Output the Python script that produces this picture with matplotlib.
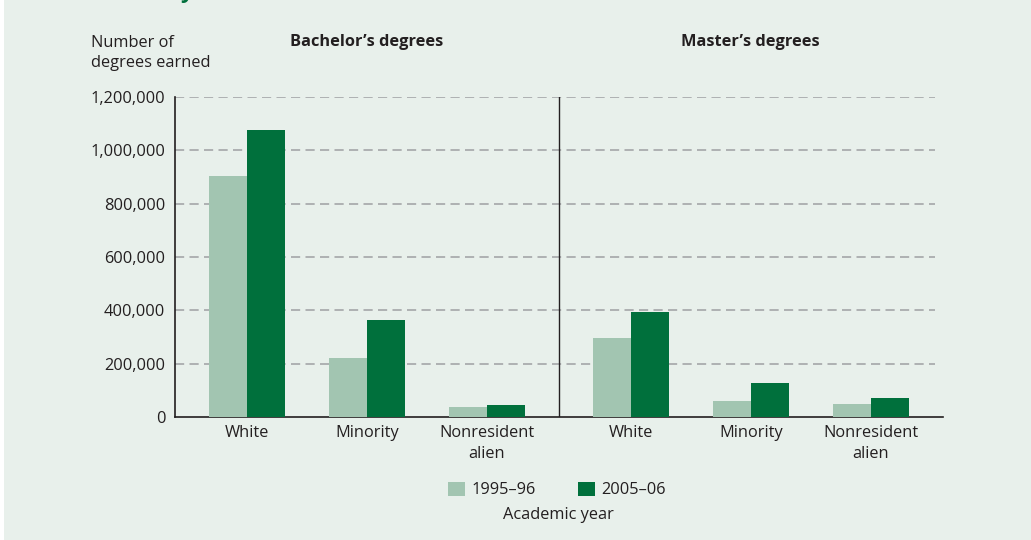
import matplotlib
matplotlib.use("Agg")
import matplotlib.pyplot as plt
from matplotlib.patches import Rectangle, Patch
from matplotlib.ticker import FuncFormatter

plt.rcParams['font.family'] = ['Open Sans', 'DejaVu Sans']

# ---- data ----
panels = ["Bachelor\u2019s degrees", "Master\u2019s degrees"]
categories = ["White", "Minority", "Nonresident\nalien"]
years = ["1995\u201396", "2005\u201306"]
bachelor_1995 = [905000, 222000, 37500]
bachelor_2005 = [1076000, 364000, 45000]
master_1995 = [296000, 60000, 49000]
master_2005 = [394000, 127500, 71000]
yticks = [0, 200000, 400000, 600000, 800000, 1000000, 1200000]

light = "#a2c5b1"
dark = "#00703c"
txt = "#231f20"
grid = "#a4a6a8"
bg = "#e8f0eb"

W, H = 1031, 540
fig = plt.figure(figsize=(W / 100, H / 100), dpi=100, facecolor="white")
fig.patches.append(Rectangle((4 / W, 0), 1 - 4 / W, 1, transform=fig.transFigure,
                             facecolor=bg, edgecolor="none", zorder=-10))

ax = fig.add_axes([175 / W, 123 / H, (943 - 175) / W, 320 / H])
ax.set_facecolor("none")

bw = 0.32
pos_b = [0, 1, 2]
pos_m = [3.2, 4.2, 5.2]
xs = pos_b + pos_m
v95 = bachelor_1995 + master_1995
v05 = bachelor_2005 + master_2005
ax.bar([x - bw / 2 for x in xs], v95, width=bw, color=light, zorder=3)
ax.bar([x + bw / 2 for x in xs], v05, width=bw, color=dark, zorder=3)

ax.set_xlim(-0.6, 5.8)
ax.set_ylim(0, 1200000)
ax.set_yticks(yticks)
ax.yaxis.set_major_formatter(FuncFormatter(lambda v, p: f"{int(v):,}"))
ax.hlines([t for t in yticks if t > 0], -0.6, 5.733, colors=grid, lw=1.2,
          linestyles=(0, (5.5, 3.2)), zorder=1)
ax.axvline(2.6, color=txt, lw=1.0, zorder=4)

ax.set_xticks(xs)
ax.set_xticklabels(categories * 2, linespacing=1.4)
ax.tick_params(axis="both", length=0, labelsize=11.8, colors=txt)
ax.tick_params(axis="y", pad=7)
ax.tick_params(axis="x", pad=6)
for s in ["top", "right"]:
    ax.spines[s].set_visible(False)
for s in ["left", "bottom"]:
    ax.spines[s].set_color(txt)
    ax.spines[s].set_linewidth(1.2)

# titles
fig.text(367 / W, 1 - 42 / H, panels[0], ha="center", va="center",
         fontsize=11.8, fontweight="bold", color=txt)
fig.text(750 / W, 1 - 42 / H, panels[1], ha="center", va="center",
         fontsize=11.8, fontweight="bold", color=txt)
fig.text(91 / W, 1 - 53 / H, "Number of\ndegrees earned", ha="left", va="center",
         fontsize=11.8, color=txt, linespacing=1.4)

# cut-off title descender at top (as in the reference)
fig.text(180 / W, 1 + 2 / H, "y", ha="left", va="baseline", fontsize=16,
         fontweight="bold", color=dark)

handles = [Patch(facecolor=light, edgecolor="none"), Patch(facecolor=dark, edgecolor="none")]
fig.legend(handles, years, loc="center", bbox_to_anchor=(557 / W, 1 - 490 / H),
           ncol=2, frameon=False, fontsize=11.8, labelcolor=txt,
           handlelength=1.0, handleheight=1.0, handletextpad=0.4, columnspacing=2.6)
fig.text(558 / W, 1 - 515 / H, "Academic year", ha="center", va="center",
         fontsize=11.8, color=txt)

fig.savefig("out.png", dpi=100, facecolor=fig.get_facecolor())
